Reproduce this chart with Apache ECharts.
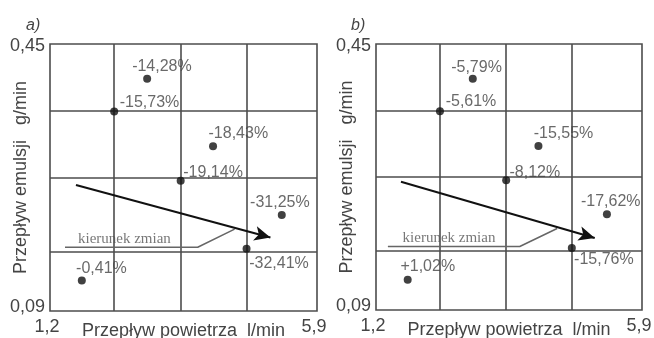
<!DOCTYPE html>
<html>
<head>
<meta charset="utf-8">
<script src="https://cdn.jsdelivr.net/npm/echarts@6/dist/echarts.min.js"></script>
<style>html,body{margin:0;padding:0;background:#fff}#c{width:654px;height:338px}</style>
</head>
<body>
<div id="c"></div>
<script>
// ---- data ----
var xRange = [1.2, 5.9];
var yRange = [0.09, 0.45];
var xTicks = [1.2, 5.9];
var yTicks = [0.09, 0.45];
var xGridLevels = [2.33, 3.5, 4.66];
var yGridLevels = [0.359, 0.2655, 0.174];
var pointX = [2.91, 2.33, 4.07, 3.5, 5.28, 4.66, 1.76];
var pointY = [0.403, 0.359, 0.312, 0.2655, 0.2196, 0.174, 0.131];
var labelsA = ['-14,28%', '-15,73%', '-18,43%', '-19,14%', '-31,25%', '-32,41%', '-0,41%'];
var labelsB = ['-5,79%', '-5,61%', '-15,55%', '-8,12%', '-17,62%', '-15,76%', '+1,02%'];
var arrowA = [[1.657, 0.260], [5.08, 0.189]];
var arrowB = [[1.641, 0.2635], [5.065, 0.1875]];
var leaderA = [[1.464, 0.176], [3.80, 0.176], [4.45, 0.2003]];
var leaderB = [[1.41, 0.176], [3.74, 0.176], [4.40, 0.2003]];
var noteText = 'kierunek zmian';
var notePosA = [2.51, 0.187];
var notePosB = [2.49, 0.187];
var panelTitles = ['a)', 'b)'];
var xName = 'Przepływ powietrza  l/min';
var yName = 'Przepływ emulsji   g/min';

// ---- layout (label offsets relative to points) ----
var offsA = [[-15, -12], [5.5, -8.5], [-4.5, -12.5], [2.6, -8], [-31.7, -12.7], [2.6, 15], [-5.7, -11.7]];
var offsB = [[-21.6, -11.6], [5.7, -10], [-4.7, -12.7], [3.3, -8], [-26, -12.6], [2.3, 12], [-7.3, -13.3]];

var FONT = 'Liberation Sans, Arial, sans-serif';
var TXT = '#444';
var LINE = '#4d4d4d';

function fmt(v) { return String(v).replace('.', ','); }
function fmtY(v) { return (v > (yRange[0] + yRange[1]) / 2 ? '{t|' : '{b|') + fmt(v) + '}'; }

function axesFor(i) {
  return {
    x: {
      type: 'value', gridIndex: i, min: xRange[0], max: xRange[1],
      name: xName, nameLocation: 'middle', nameGap: 11, nameMoveOverlap: false,
      nameTextStyle: { fontFamily: FONT, fontSize: 18, color: TXT },
      axisLine: { show: false }, axisTick: { show: false }, splitLine: { show: false },
      axisLabel: { customValues: xTicks, formatter: fmt, fontFamily: FONT, fontSize: 18, color: TXT, margin: 7, padding: [0, 6, 0, 0] }
    },
    y: {
      type: 'value', gridIndex: i, min: yRange[0], max: yRange[1],
      name: yName, nameLocation: 'middle', nameRotate: 90, nameGap: 20, nameMoveOverlap: false,
      nameTextStyle: { fontFamily: FONT, fontSize: 18, color: TXT },
      axisLine: { show: false }, axisTick: { show: false }, splitLine: { show: false },
      axisLabel: {
        customValues: yTicks, formatter: fmtY, fontFamily: FONT, fontSize: 18, color: TXT, margin: 5,
        rich: {
          t: { fontFamily: FONT, fontSize: 18, color: TXT, padding: [4, 0, 0, 0] },
          b: { fontFamily: FONT, fontSize: 18, color: TXT, padding: [0, 0, 7, 0] }
        }
      }
    }
  };
}

function seriesFor(i, labels, offs, arrow, leader, notePos) {
  var gridMarks = xGridLevels.map(function (v) { return { xAxis: v }; })
    .concat(yGridLevels.map(function (v) { return { yAxis: v }; }));
  return [
    {
      type: 'scatter', xAxisIndex: i, yAxisIndex: i, symbolSize: 0, data: [], silent: true, z: 1,
      markLine: {
        silent: true, symbol: 'none', z: 1, animation: false,
        label: { show: false },
        lineStyle: { color: LINE, width: 1.6, type: 'solid' },
        data: gridMarks
      }
    },
    {
      type: 'line', xAxisIndex: i, yAxisIndex: i, data: leader, symbol: 'none', silent: true, z: 3,
      lineStyle: { color: '#666', width: 1.5 }
    },
    {
      type: 'scatter', xAxisIndex: i, yAxisIndex: i, symbolSize: 0, silent: true, z: 4,
      data: [notePos],
      label: { show: true, position: 'inside', formatter: noteText, fontFamily: 'Liberation Serif, Times New Roman, serif', fontSize: 15, color: '#555' }
    },
    {
      type: 'scatter', xAxisIndex: i, yAxisIndex: i, symbolSize: 0, data: [], silent: true, z: 5,
      markLine: {
        silent: true, z: 5, animation: false,
        symbol: ['none', 'arrow'], symbolSize: [11, 16],
        label: { show: false },
        lineStyle: { color: '#111', width: 2, type: 'solid' },
        data: [[{ coord: arrow[0] }, { coord: arrow[1] }]]
      }
    },
    {
      type: 'scatter', xAxisIndex: i, yAxisIndex: i, symbol: 'circle', symbolSize: 8, z: 10,
      itemStyle: { color: '#111' },
      data: pointX.map(function (x, k) {
        return {
          value: [x, pointY[k]],
          label: { show: true, position: 'inside', align: 'left', verticalAlign: 'middle', offset: offs[k], formatter: labels[k], fontFamily: FONT, fontSize: 16, color: TXT }
        };
      })
    }
  ];
}

var a0 = axesFor(0), a1 = axesFor(1);
var chart = echarts.init(document.getElementById('c'), null, { renderer: 'canvas' });
chart.setOption({
  animation: false,
  backgroundColor: '#fff',
  title: [
    { text: panelTitles[0], left: 21, top: 13, textStyle: { fontFamily: FONT, fontStyle: 'italic', fontWeight: 'normal', fontSize: 16, color: TXT } },
    { text: panelTitles[1], left: 346, top: 13, textStyle: { fontFamily: FONT, fontStyle: 'italic', fontWeight: 'normal', fontSize: 16, color: TXT } }
  ],
  grid: [
    { left: 50, top: 44, width: 267, height: 267, show: true, borderColor: LINE, borderWidth: 1.6, backgroundColor: 'transparent', containLabel: false, outerBoundsMode: 'none' },
    { left: 376, top: 44, width: 266, height: 266, show: true, borderColor: LINE, borderWidth: 1.6, backgroundColor: 'transparent', containLabel: false, outerBoundsMode: 'none' }
  ],
  xAxis: [a0.x, a1.x],
  yAxis: [a0.y, a1.y],
  series: seriesFor(0, labelsA, offsA, arrowA, leaderA, notePosA)
    .concat(seriesFor(1, labelsB, offsB, arrowB, leaderB, notePosB))
});
</script>
</body>
</html>
